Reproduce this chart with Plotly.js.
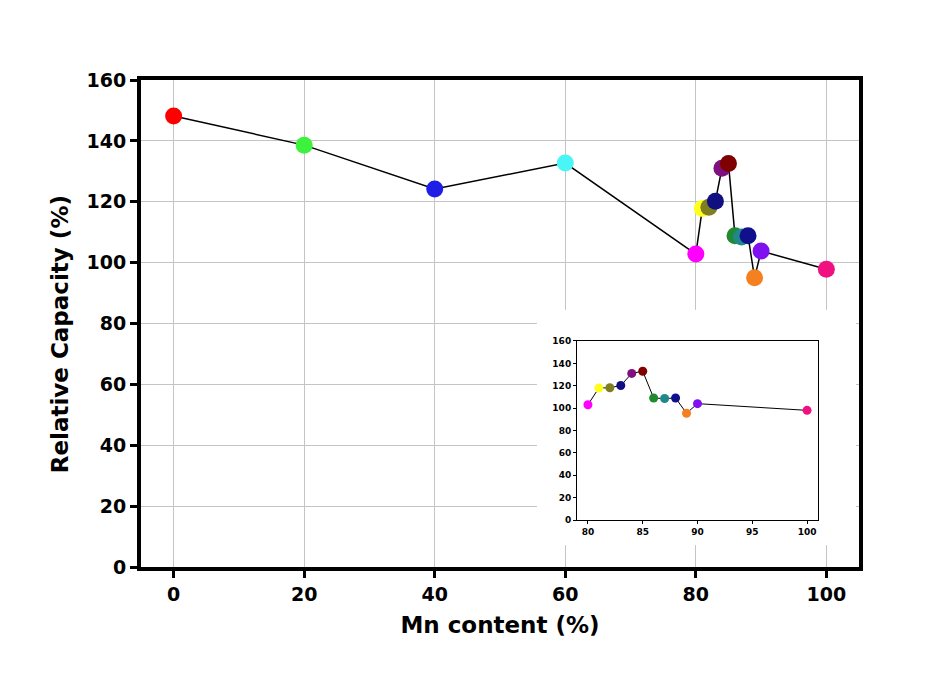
<!DOCTYPE html>
<html>
<head>
<meta charset="utf-8">
<script src="https://cdn.plot.ly/plotly-3.0.1.min.js"></script>
<style>html,body{margin:0;padding:0;background:#fff;}#chart{width:937px;height:681px;}</style>
</head>
<body>
<div id="chart"></div>
<script>
// Main series
const mnContent = [0, 20, 40, 60, 80, 81, 82, 83, 84, 85, 86, 87, 88, 89, 90, 100];
const relCapacity = [148.2, 138.6, 124.2, 132.7, 102.8, 117.8, 118.2, 120.2, 131, 132.6, 108.8, 108.4, 108.8, 95, 103.8, 97.8];
const pointColors = ['#ff0000', '#3cf23c', '#1e1ee6', '#4af5f5', '#ff00ff', '#ffff1e', '#7f7f20', '#101080', '#80107f', '#7f0000', '#208a30', '#208888', '#10108c', '#f58020', '#7f10f0', '#f0107f'];

// Inset series (Mn >= 80 %)
const insetX = [80, 81, 82, 83, 84, 85, 86, 87, 88, 89, 90, 100];
const insetY = [103, 118, 118.2, 120.2, 131, 133, 109, 108.6, 109, 95.4, 104, 98];
const insetColors = pointColors.slice(4);

const yTicks = [0, 20, 40, 60, 80, 100, 120, 140, 160];
const xTicks = [0, 20, 40, 60, 80, 100];
const insetXTicks = [80, 85, 90, 95, 100];

const xTitle = 'Mn content (%)';
const yTitle = 'Relative Capacity (%)';

const F = 'DejaVu Sans, Verdana, sans-serif';

const traces = [
  {
    x: mnContent, y: relCapacity, xaxis: 'x', yaxis: 'y',
    type: 'scatter', mode: 'lines+markers',
    line: {color: '#000', width: 1.5},
    marker: {size: 17, color: pointColors, line: {width: 0}},
    hoverinfo: 'skip', showlegend: false
  },
  {
    x: [], y: [], xaxis: 'x2', yaxis: 'y2', type: 'scatter', mode: 'markers',
    hoverinfo: 'skip', showlegend: false
  },
  {
    x: insetX, y: insetY, xaxis: 'x3', yaxis: 'y3',
    type: 'scatter', mode: 'lines+markers',
    line: {color: '#000', width: 1},
    marker: {size: 9, color: insetColors, line: {width: 0}},
    hoverinfo: 'skip', showlegend: false
  }
];

const layout = {
  width: 937, height: 681,
  margin: {l: 141, r: 78, t: 80, b: 114},
  paper_bgcolor: '#fff', plot_bgcolor: '#fff',
  showlegend: false,
  xaxis: {
    domain: [0, 1], range: [-5, 105],
    tickvals: xTicks, ticktext: xTicks.map(String),
    showgrid: true, gridcolor: '#c4c4c4', gridwidth: 1, zeroline: false,
    showline: true, linecolor: '#000', linewidth: 4, mirror: true,
    ticks: 'outside', ticklen: 7, tickwidth: 3, tickcolor: '#000',
    tickfont: {family: F, size: 19, weight: 'bold', color: '#000'},
    title: {text: xTitle, font: {family: F, size: 23, weight: 'bold', color: '#000'}, standoff: 14}
  },
  yaxis: {
    domain: [0, 1], range: [0, 160],
    tickvals: yTicks, ticktext: yTicks.map(String),
    showgrid: true, gridcolor: '#c4c4c4', gridwidth: 1, zeroline: false,
    showline: true, linecolor: '#000', linewidth: 4, mirror: true,
    ticks: 'outside', ticklen: 7, tickwidth: 3, tickcolor: '#000',
    tickfont: {family: F, size: 19, weight: 'bold', color: '#000'}
  },
  annotations: [{
    text: yTitle, xref: 'paper', yref: 'paper', x: -0.1128, y: 0.478,
    xanchor: 'center', yanchor: 'middle', textangle: -90, showarrow: false,
    font: {family: F, size: 23, weight: 'bold', color: '#000'}
  }],
  // white cover behind the inset
  xaxis2: {domain: [0.5515, 0.9958], range: [0, 1], visible: false, anchor: 'y2', fixedrange: true},
  yaxis2: {domain: [0.045, 0.528], range: [0, 1], visible: false, anchor: 'x2', fixedrange: true},
  // inset
  xaxis3: {
    domain: [0.6072, 0.9429], range: [79, 101], anchor: 'y3',
    tickvals: insetXTicks, ticktext: insetXTicks.map(String),
    showgrid: false, zeroline: false,
    showline: true, linecolor: '#000', linewidth: 1, mirror: true,
    ticks: 'outside', ticklen: 3, tickwidth: 1, tickcolor: '#000',
    tickfont: {family: F, size: 9, weight: 'bold', color: '#000'}
  },
  yaxis3: {
    domain: [0.0965, 0.4641], range: [0, 160], anchor: 'x3',
    tickvals: yTicks, ticktext: yTicks.map(String),
    showgrid: false, zeroline: false,
    showline: true, linecolor: '#000', linewidth: 1, mirror: true,
    ticks: 'outside', ticklen: 3, tickwidth: 1, tickcolor: '#000',
    tickfont: {family: F, size: 9, weight: 'bold', color: '#000'}
  }
};

Plotly.newPlot('chart', traces, layout, {staticPlot: true, displayModeBar: false});
</script>
</body>
</html>
